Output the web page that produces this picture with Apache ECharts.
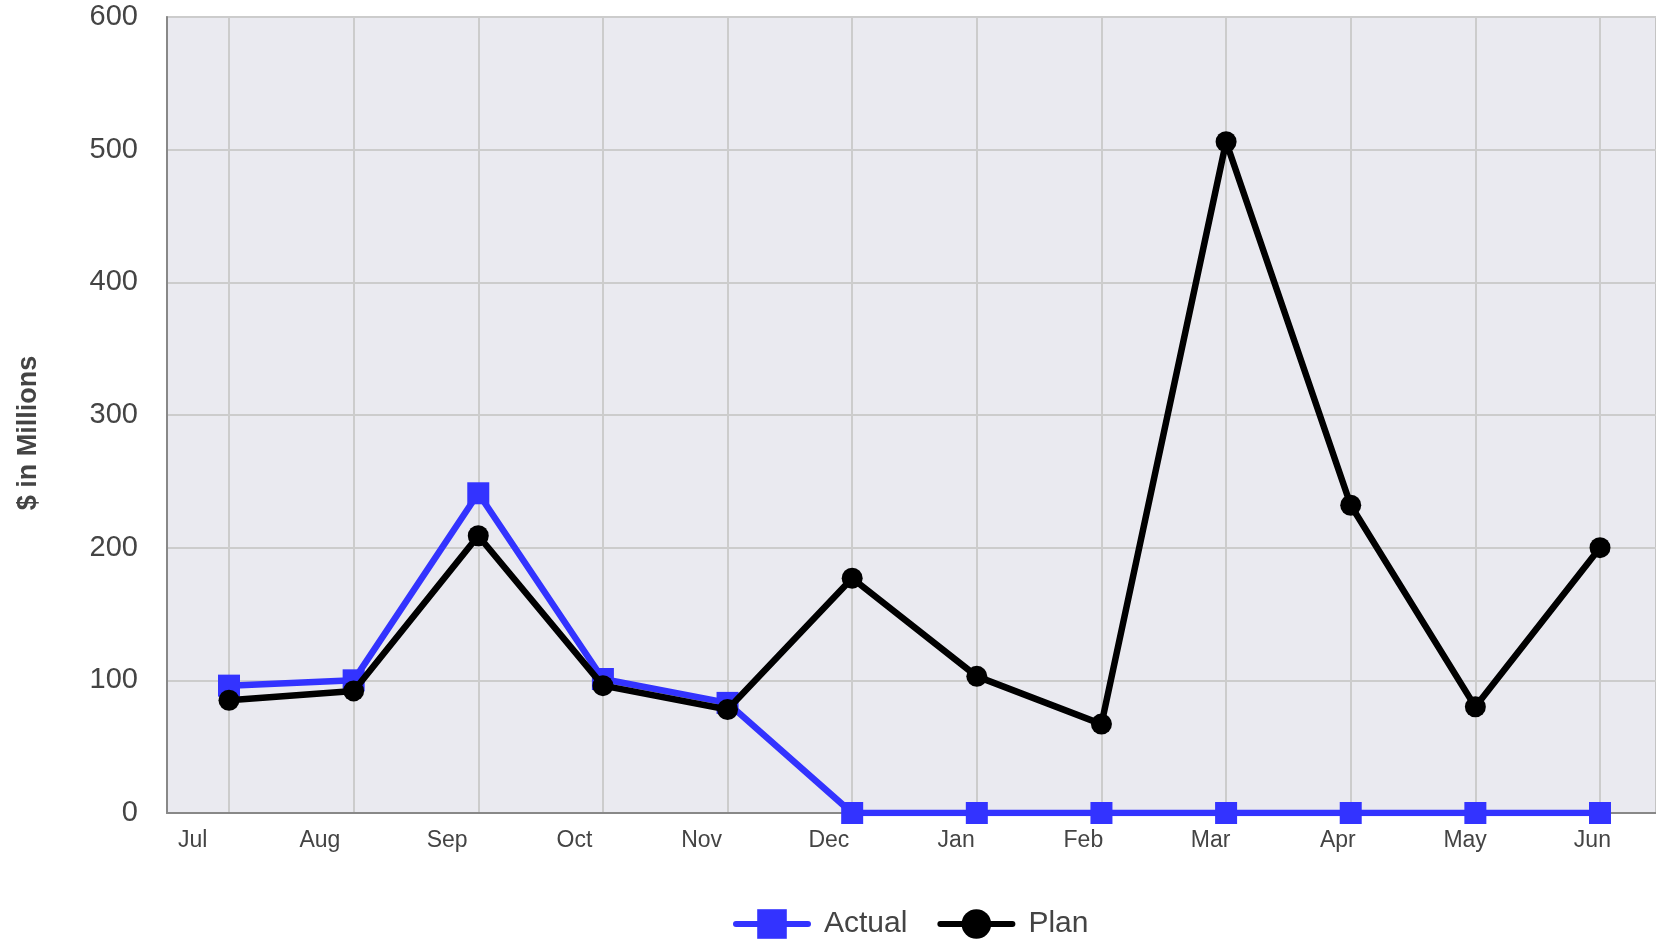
<!DOCTYPE html>
<html>
<head>
<meta charset="utf-8">
<script src="https://cdn.jsdelivr.net/npm/echarts@6/dist/echarts.min.js"></script>
<style>
  html, body { margin: 0; padding: 0; background: #fff; }
  #chart { width: 1656px; height: 939px; }
</style>
</head>
<body>
<div id="chart"></div>
<script>
// monthly values, $ in millions
const months = ['Jul', 'Aug', 'Sep', 'Oct', 'Nov', 'Dec', 'Jan', 'Feb', 'Mar', 'Apr', 'May', 'Jun']
const actual = [96, 100, 241, 101, 83, 0, 0, 0, 0, 0, 0, 0]
const plan = [85, 92, 209, 96, 78, 177, 103, 67, 506, 232, 80, 200]
const yTicks = { min: 0, max: 600, step: 100 }

const textColor = '#444'
const font = 'Liberation Sans, Arial, sans-serif'
const plotTop = 17
const plotBottom = 126

const chart = echarts.init(document.getElementById('chart'))

const option = {
  animation: false,
  grid: [
    // plot frame + y axis
    {
      left: 167, right: -6, top: plotTop, bottom: plotBottom,
      show: true,
      backgroundColor: '#eaeaf0',
      borderColor: '#c4c4c4',
      borderWidth: 2
    },
    // data area: first/last month sit inside the frame
    { left: 229, width: 1371, top: plotTop, bottom: plotBottom },
    // month labels have their own spacing
    { left: 129, width: 1531, top: plotTop, bottom: plotBottom }
  ],
  legend: {
    left: 728,
    top: 904,
    itemWidth: 72,
    itemHeight: 37,
    itemGap: 30,
    lineStyle: { width: 6, cap: 'round' },
    textStyle: { fontSize: 30, color: textColor, fontFamily: font, padding: [0, 0, 0, 11] },
    data: ['Actual', 'Plan']
  },
  xAxis: [
    {
      type: 'category',
      gridIndex: 0,
      data: months,
      axisLine: { lineStyle: { color: '#888', width: 2 } },
      axisTick: { show: false },
      axisLabel: { show: false },
      splitLine: { show: false }
    },
    {
      type: 'category',
      gridIndex: 1,
      data: months,
      boundaryGap: false,
      axisLine: { show: false },
      axisTick: { show: false },
      axisLabel: { show: false },
      splitLine: { show: true, interval: 0, lineStyle: { color: '#cccccc', width: 2 } }
    },
    {
      type: 'category',
      gridIndex: 2,
      data: months,
      boundaryGap: true,
      axisLine: { show: false },
      axisTick: { show: false },
      splitLine: { show: false },
      axisLabel: { interval: 0, fontSize: 23, color: textColor, fontFamily: font, margin: 16 }
    }
  ],
  yAxis: [
    {
      type: 'value',
      gridIndex: 0,
      min: yTicks.min,
      max: yTicks.max,
      interval: yTicks.step,
      name: '$ in Millions',
      nameLocation: 'middle',
      nameGap: 125,
      nameRotate: 90,
      nameTextStyle: { fontSize: 27, fontWeight: 'bold', color: textColor, fontFamily: font, padding: [0, 0, 0, -36] },
      axisLine: { show: true, lineStyle: { color: '#888', width: 2 } },
      axisTick: { show: false },
      axisLabel: { fontSize: 29, color: textColor, fontFamily: font, margin: 29, padding: [5, 0, 0, 0] },
      splitLine: { lineStyle: { color: '#cccccc', width: 2 } }
    },
    { type: 'value', gridIndex: 1, show: false, min: yTicks.min, max: yTicks.max },
    { type: 'value', gridIndex: 2, show: false, min: yTicks.min, max: yTicks.max }
  ],
  series: [
    {
      name: 'Actual',
      type: 'line',
      xAxisIndex: 1,
      yAxisIndex: 1,
      data: actual,
      symbol: 'rect',
      symbolSize: 22,
      color: '#3333ff',
      lineStyle: { width: 6.5, color: '#3333ff', cap: 'round' },
      itemStyle: { color: '#3333ff' },
      z: 3
    },
    {
      name: 'Plan',
      type: 'line',
      xAxisIndex: 1,
      yAxisIndex: 1,
      data: plan,
      symbol: 'circle',
      symbolSize: 21,
      color: '#000',
      lineStyle: { width: 6.5, color: '#000', cap: 'round' },
      itemStyle: { color: '#000' },
      z: 4
    }
  ]
}

chart.setOption(option)
</script>
</body>
</html>
